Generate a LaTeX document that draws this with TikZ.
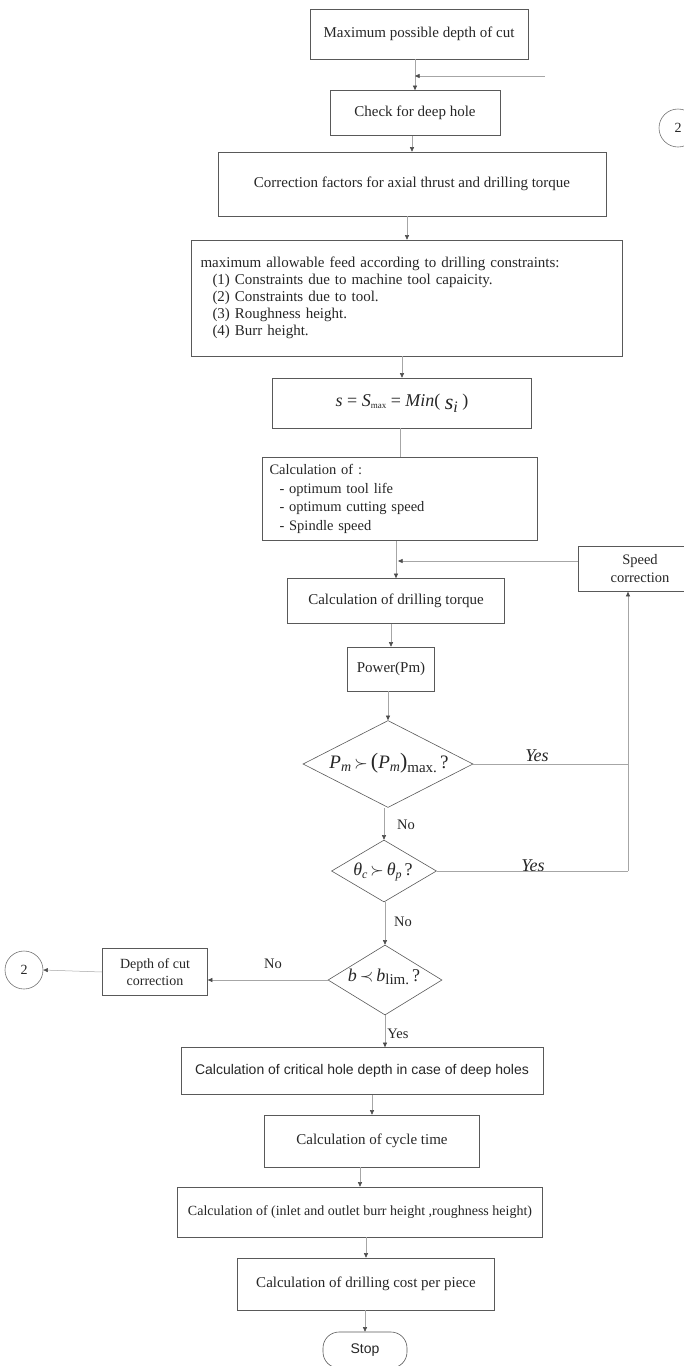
\documentclass[tikz,border=0pt]{standalone}
\usepackage{fontspec}
\setmainfont{Liberation Serif}
\newfontfamily\arialf{Liberation Sans}
\usetikzlibrary{shapes.geometric,arrows.meta}
\begin{document}
\begin{tikzpicture}[x=1pt,y=-1pt,
  box/.style={draw=black!65, line width=0.6pt, rectangle, inner sep=0pt, text=black!85,
    font=\fontsize{15}{17}\selectfont, align=center},
  ln/.style={draw=black!35, line width=0.5pt},
  arr/.style={ln, -{Triangle[length=4.5pt,width=4pt,color=black!70]}},
  dia/.style={draw=black!65, line width=0.6pt, diamond, inner sep=0pt},
  dtext/.style={text=black!85, font=\fontsize{19}{21}\selectfont},
  lbl/.style={text=black!85, font=\fontsize{14.5}{16}\selectfont},
  yes/.style={text=black!85, font=\itshape\fontsize{18}{20}\selectfont}]
\useasboundingbox (0,0) rectangle (684,1366);

% boxes
\node[box, minimum width=218, minimum height=50] (b1) at (419,34) {Maximum possible depth of cut};
\node[box, minimum width=170, minimum height=45] (b2) at (415,113) {Check for deep hole};
\node[box, minimum width=388, minimum height=64] (b3) at (412,184) {Correction factors for axial thrust and drilling torque};
\node[box, minimum width=431, minimum height=116, text width=413, inner xsep=9pt, align=left] (b4) at (407,298)
  {maximum allowable feed according to drilling constraints:\\
   \hspace*{12pt}(1) Constraints due to machine tool capaicity.\\
   \hspace*{12pt}(2) Constraints due to tool.\\
   \hspace*{12pt}(3) Roughness height.\\
   \hspace*{12pt}(4) Burr height.};
\node[box, minimum width=259, minimum height=50, font=\fontsize{18}{20}\selectfont] (b5) at (402,403)
  {\textit{s} = \textit{S}\raisebox{-2pt}{\fontsize{9}{10}\selectfont max} = \textit{Min}( \raisebox{-3pt}{\fontsize{22}{24}\selectfont\textit{s}\raisebox{-3pt}{\fontsize{16}{18}\selectfont\textit{i}}} )};
\node[box, minimum width=275, minimum height=83, text width=261, inner xsep=7pt, align=left,
  font=\fontsize{14.5}{18.5}\selectfont] (b6) at (400,499)
  {Calculation of :\\
   \hspace*{10pt}- optimum tool life\\
   \hspace*{10pt}- optimum cutting speed\\
   \hspace*{10pt}- Spindle speed};
\node[box, minimum width=124, minimum height=45, font=\fontsize{14.5}{18}\selectfont] (sc) at (640,569) {Speed\\correction};
\node[box, minimum width=217, minimum height=45] (b7) at (396,601) {Calculation of drilling torque};
\node[box, minimum width=87, minimum height=44] (b8) at (391,669) {Power(Pm)};

% decisions
\node[dia, minimum width=170, minimum height=87] (d1) at (388,764) {};
\node[dtext] (d1t) at (389,763)
  {\textit{P}\raisebox{-3pt}{\fontsize{14}{16}\selectfont\textit{m}}\,$\succ$\,{\fontsize{22}{24}\selectfont(}\textit{P}\raisebox{-3pt}{\fontsize{14}{16}\selectfont\textit{m}}{\fontsize{22}{24}\selectfont)}\raisebox{-4pt}{\fontsize{15}{16}\selectfont max.}\,?};
\node[dia, minimum width=105, minimum height=62] (d2) at (384,871) {};
\node[dtext, font=\fontsize{18}{20}\selectfont] (d2t) at (383,872)
  {\textit{θ}\raisebox{-3pt}{\fontsize{12}{14}\selectfont\textit{c}}\,$\succ$\,\textit{θ}\raisebox{-3pt}{\fontsize{12}{14}\selectfont\textit{p}}\,?};
\node[dia, minimum width=114, minimum height=70] (d3) at (385,980) {};
\node[dtext, font=\fontsize{18}{20}\selectfont] (d3t) at (384,977)
  {\textit{b}\,$\prec$\,\textit{b}\raisebox{-3pt}{\fontsize{15}{16}\selectfont lim.}\,?};

\node[box, minimum width=105, minimum height=47, font=\fontsize{14}{17}\selectfont] (dc) at (155,972) {Depth of cut\\correction};
\node[draw=black!55, line width=0.6pt, circle, minimum size=38, inner sep=0pt, text=black!85,
  font=\fontsize{14}{16}\selectfont] (c2a) at (24,970) {2};
\node[draw=black!55, line width=0.6pt, circle, minimum size=38, inner sep=0pt, text=black!85,
  font=\fontsize{14}{16}\selectfont] (c2b) at (678,128) {2};

\node[box, minimum width=362, minimum height=47, font=\arialf\fontsize{14}{16}\selectfont] (b9) at (362,1071)
  {Calculation of critical hole depth in case of deep holes};
\node[box, minimum width=215, minimum height=52] (b10) at (372,1141) {Calculation of cycle time};
\node[box, minimum width=365, minimum height=50, font=\fontsize{14}{16}\selectfont] (b11) at (360,1212)
  {Calculation of (inlet and outlet burr height ,roughness height)};
\node[box, minimum width=257, minimum height=52] (b12) at (366,1284) {Calculation of drilling cost per piece};
\node[box, rounded corners=16pt, minimum width=84, minimum height=36, font=\arialf\fontsize{14}{16}\selectfont] (stop) at (365,1350) {Stop};

% labels
\node[yes] (y1) at (537,756) {Yes};
\node[yes] (y2) at (533,866) {Yes};
\node[lbl] (n1) at (406,825) {No};
\node[lbl] (n2) at (403,922) {No};
\node[lbl] (n3) at (273,964) {No};
\node[lbl] (y3) at (398,1034) {Yes};

% helper coordinates
\coordinate (t1) at (545,76);
\coordinate (j1) at (398,561);
\coordinate (yr) at (628,770);

% connectors
\draw[arr] (b2.north |- b1.south) -- (b2.north);
\draw[arr] (t1) -- (b2.north |- t1);
\draw[arr] (b3.north |- b2.south) -- (b3.north);
\draw[arr] (b4.north |- b3.south) -- (b4.north);
\draw[arr] (b5.north |- b4.south) -- (b5.north);
\draw[ln] (b6.north |- b5.south) -- (b6.north);
\draw[arr] (b7.north |- b6.south) -- (b7.north);
\draw[arr] (sc.west |- j1) -- (j1);
\draw[arr] (b8.north |- b7.south) -- (b8.north);
\draw[arr] (d1.north |- b8.south) -- (d1.north);
\draw[arr] (d2.north |- d1.south) -- (d2.north);
\draw[arr] (d3.north |- d2.south) -- (d3.north);
\draw[ln] (d1.east) -- (d1.east -| yr);
\draw[ln] (d2.east) -- (d2.east -| yr);
\draw[arr] (d2.east -| yr) -- (yr |- sc.south);
\draw[arr] (d3.west) -- (d3.west -| dc.east);
\draw[arr] (dc.west) -- (c2a.east);
\draw[arr] (d3.south) -- (d3.south |- b9.north);
\draw[arr] (b10.north |- b9.south) -- (b10.north);
\draw[arr] (b11.north |- b10.south) -- (b11.north);
\draw[arr] (b12.north |- b11.south) -- (b12.north);
\draw[arr] (stop.north |- b12.south) -- (stop.north);
\end{tikzpicture}
\end{document}
